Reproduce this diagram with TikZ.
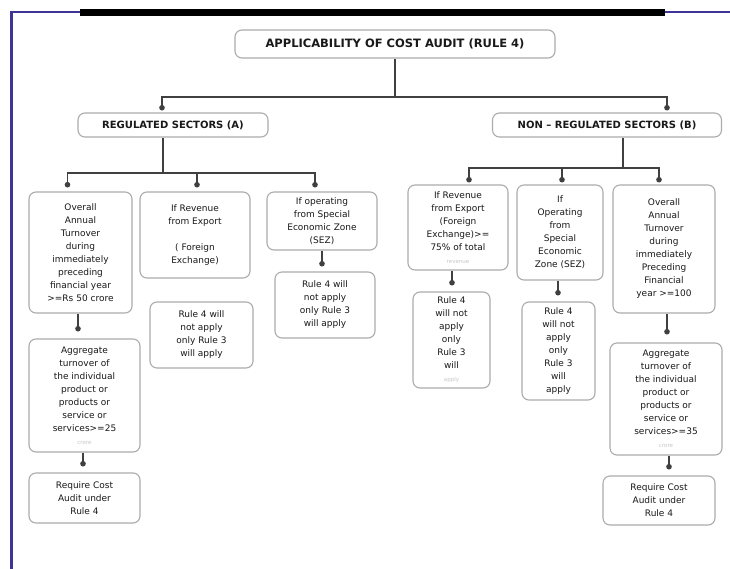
\documentclass[tikz,border=0pt]{standalone}
\usepackage{fontspec}
\setmainfont{DejaVu Sans}
\usetikzlibrary{arrows.meta}

\definecolor{slideblue}{RGB}{62,52,150}
\newcommand{\cutline}[1]{{\color{gray!45}\fontsize{5.5}{7}\selectfont #1}}

\begin{document}
\begin{tikzpicture}[x=1pt, y=-1pt,
    every node/.style={font=\fontsize{9}{13}\selectfont, text=black!90},
    box/.style={draw=gray!65, line width=1.1pt, rounded corners=7pt, fill=white, align=center, inner sep=1.5pt},
    head/.style={box, font=\fontsize{10}{12}\selectfont\bfseries},
    link/.style={draw=black!75, line width=1.3pt},
    conn/.style={link, -{Circle[length=5.5pt]}, shorten >=4pt}]

\useasboundingbox (0,0) rectangle (730,569);

% --- SLIDE FRAME ---
\fill[white] (0,0) rectangle (730,569);
\draw[slideblue, line width=2pt] (10,12) -- (730,12);
\fill[black] (80,9) rectangle (665,16);
\draw[slideblue, line width=3pt] (11,11) -- (11,569);

% --- TOP LEVEL ---
\node[box, font=\fontsize{11.5}{13}\selectfont\bfseries, minimum width=320pt, minimum height=28pt] (title) at (395,44)
    {APPLICABILITY OF COST AUDIT (RULE 4)};
\node[head, minimum width=190pt, minimum height=24pt] (regA) at (173,125) {REGULATED SECTORS (A)};
\node[head, minimum width=229pt, minimum height=24pt] (regB) at (607,125) {NON -- REGULATED SECTORS (B)};

% --- REGULATED SECTORS ---
\node[box, minimum width=103pt, minimum height=121pt] (turnA) at (80.5,252.5)
    {Overall\\Annual\\Turnover\\during\\immediately\\preceding\\financial year\\>=Rs 50 crore};
\node[box, minimum width=110pt, minimum height=86pt] (exportA) at (195,235)
    {If Revenue\\from Export\\[13pt]( Foreign\\Exchange)};
\node[box, minimum width=110pt, minimum height=58pt] (sezA) at (322,221)
    {If operating\\from Special\\Economic Zone\\(SEZ)};
\node[box, minimum width=103pt, minimum height=66pt] (exportAres) at (201.5,335)
    {Rule 4 will\\not apply\\only Rule 3\\will apply};
\node[box, minimum width=100pt, minimum height=66pt] (sezAres) at (325,305)
    {Rule 4 will\\not apply\\only Rule 3\\will apply};
\node[box, minimum width=111pt, minimum height=113pt] (aggA) at (84.5,395.5)
    {Aggregate\\turnover of\\the individual\\product or\\products or\\service or\\services>=25\\\cutline{crore}};
\node[box, minimum width=111pt, minimum height=50pt] (auditA) at (84.5,498)
    {Require Cost\\Audit under\\Rule 4};

% --- NON-REGULATED SECTORS ---
\node[box, minimum width=100pt, minimum height=85pt] (exportB) at (458,227.5)
    {If Revenue\\from Export\\(Foreign\\Exchange)>=\\75\% of total\\\cutline{revenue}};
\node[box, minimum width=86pt, minimum height=95pt] (sezB) at (560,232.5)
    {If\\Operating\\from\\Special\\Economic\\Zone (SEZ)};
\node[box, minimum width=102pt, minimum height=128pt] (turnB) at (664,249)
    {Overall\\Annual\\Turnover\\during\\immediately\\Preceding\\Financial\\year >=100};
\node[box, minimum width=77pt, minimum height=96pt] (exportBres) at (451.5,340)
    {Rule 4\\will not\\apply\\only\\Rule 3\\will\\\cutline{apply}};
\node[box, minimum width=73pt, minimum height=98pt] (sezBres) at (558.5,351)
    {Rule 4\\will not\\apply\\only\\Rule 3\\will\\apply};
\node[box, minimum width=112pt, minimum height=112pt] (aggB) at (666,399)
    {Aggregate\\turnover of\\the individual\\product or\\products or\\service or\\services>=35\\\cutline{crore}};
\node[box, minimum width=112pt, minimum height=49pt] (auditB) at (659,500.5)
    {Require Cost\\Audit under\\Rule 4};

% --- CONNECTORS ---
\coordinate (J0) at (395,97);
\coordinate (JA) at (163,173);
\coordinate (JB) at (623,168);

\draw[link] (title.south) -- (J0);
\draw[conn, shorten >=2pt] (J0) -| ([xshift=-11pt]regA.north);
\draw[conn, shorten >=2pt] (J0) -| ([xshift=60pt]regB.north);

\draw[link] ([xshift=-10pt]regA.south) -- (JA);
\draw[conn] (JA) -| ([xshift=-13pt]turnA.north);
\draw[conn] (JA) -| ([xshift=2pt]exportA.north);
\draw[conn] (JA) -| ([xshift=-7pt]sezA.north);

\draw[link] ([xshift=16pt]regB.south) -- (JB);
\draw[conn, shorten >=2pt] (JB) -| ([xshift=11pt]exportB.north);
\draw[conn, shorten >=2pt] (JB) -| ([xshift=2pt]sezB.north);
\draw[conn, shorten >=2pt] (JB) -| ([xshift=-5pt]turnB.north);

\draw[conn, shorten >=7pt] ([xshift=-2.5pt]turnA.south) -- ([xshift=-2.5pt]turnA.south |- aggA.north);
\draw[conn, shorten >=6pt] ([xshift=-1.5pt]aggA.south) -- ([xshift=-1.5pt]aggA.south |- auditA.north);
\draw[conn, shorten >=5pt] (sezA.south) -- (sezA.south |- sezAres.north);
\draw[conn, shorten >=6pt] ([xshift=-6pt]exportB.south) -- ([xshift=-6pt]exportB.south |- exportBres.north);
\draw[conn, shorten >=6pt] ([xshift=-2pt]sezB.south) -- ([xshift=-2pt]sezB.south |- sezBres.north);
\draw[conn, shorten >=8pt] ([xshift=3pt]turnB.south) -- ([xshift=3pt]turnB.south |- aggB.north);
\draw[conn, shorten >=6pt] ([xshift=3pt]aggB.south) -- ([xshift=3pt]aggB.south |- auditB.north);

\end{tikzpicture}
\end{document}
